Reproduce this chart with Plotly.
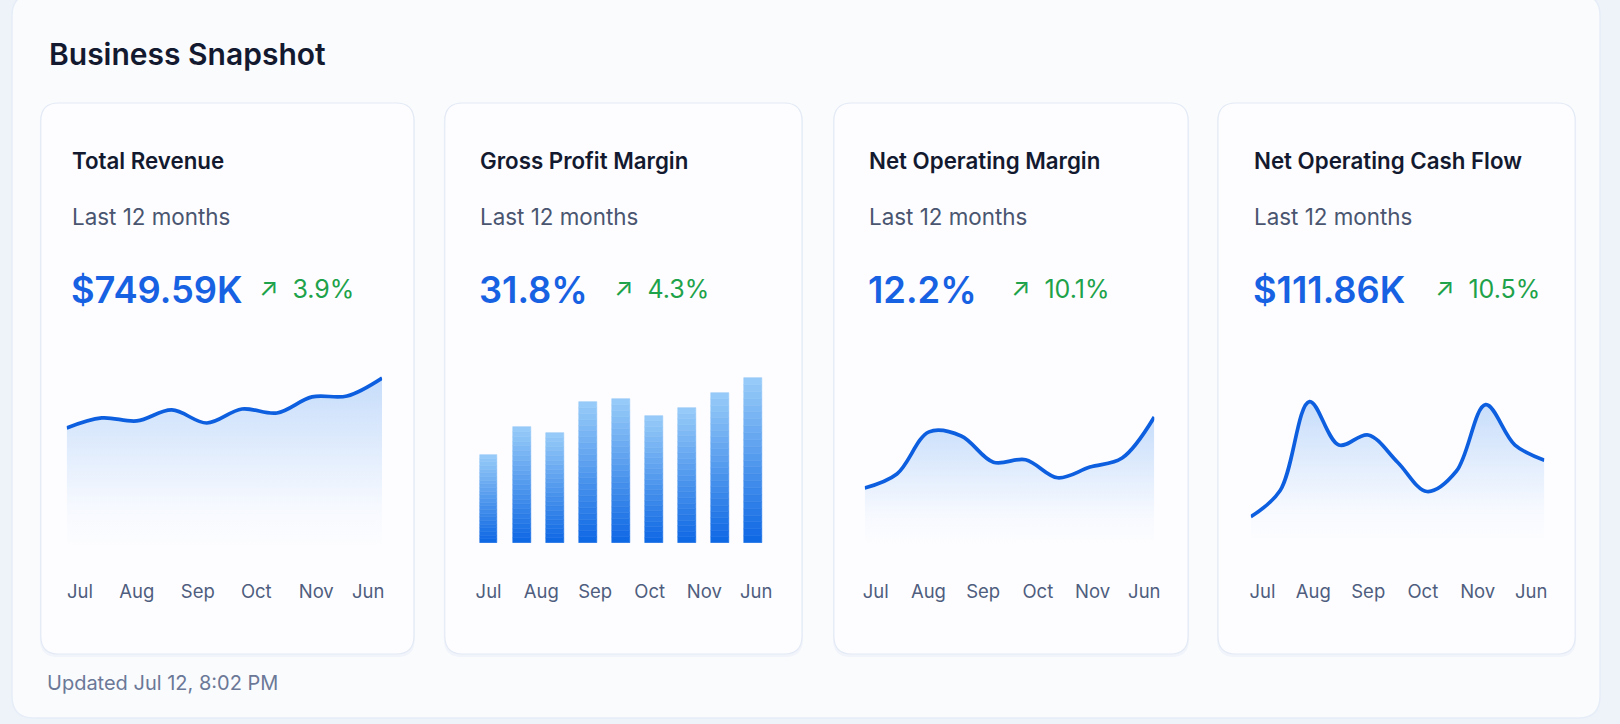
import plotly.graph_objects as go

W, H = 1620, 724

# ---------------- data ----------------
months = ["Jul", "Aug", "Sep", "Oct", "Nov", "Jun"]

card_titles = ["Total Revenue", "Gross Profit Margin", "Net Operating Margin", "Net Operating Cash Flow"]
card_subtitle = "Last 12 months"
card_values = ["$749.59K", "31.8%", "12.2%", "$111.86K"]
card_changes = ["3.9%", "4.3%", "10.1%", "10.5%"]

revenue_k = [63.5, 68.8, 67.2, 73.0, 66.1, 73.5, 71.4, 79.9, 80.4, 89.9]
gross_margin_pct = [17.6, 23.2, 22.0, 28.2, 28.8, 25.4, 27.0, 30.0, 33.0]
net_margin_pct = [6.95, 8.66, 13.8, 13.3, 10.1, 10.4, 8.2, 9.5, 10.6, 15.6]
cash_flow_k = [2.5, 5.1, 13.9, 9.6, 10.6, 7.9, 5.0, 7.0, 13.6, 9.6, 8.1]

# tick positions (in each chart's x units) for the month labels
tick_pos_1 = [0.38, 2.0, 3.74, 5.41, 7.12, 8.6]
tick_pos_2 = [0.0, 1.59, 3.22, 4.87, 6.52, 8.09]
tick_pos_3 = [0.34, 1.98, 3.68, 5.38, 7.08, 8.69]
tick_pos_4 = [0.4, 2.13, 4.0, 5.86, 7.73, 9.55]

updated_text = "Updated Jul 12, 8:02 PM"

# ---------------- style ----------------
FONT = "Inter, Lato, 'Open Sans', sans-serif"
PAGE_BG = "#eef3fa"
OUTER_BG = "#fafbfd"
CARD_BG = "#fdfdff"
CARD_BORDER = "#e3eaf5"
LINE_BLUE = "#0d5fe0"
VALUE_BLUE = "#1761e3"
GREEN = "#1ea24a"
DARK = "#131a30"
SUB = "#4a5570"
TICK = "#4f5d7e"


def px(x):
    return x / W


def py(y):
    return 1 - y / H


def rrect(x0, y0, x1, y1, r):
    # rounded rectangle path in paper coordinates (pixel inputs)
    rx, ry = r / W, r / H
    X0, X1 = px(x0), px(x1)
    Y0, Y1 = py(y1), py(y0)  # bottom, top
    return (f"M{X0+rx},{Y1} L{X1-rx},{Y1} Q{X1},{Y1} {X1},{Y1-ry} "
            f"L{X1},{Y0+ry} Q{X1},{Y0} {X1-rx},{Y0} L{X0+rx},{Y0} "
            f"Q{X0},{Y0} {X0},{Y0+ry} L{X0},{Y1-ry} Q{X0},{Y1} {X0+rx},{Y1} Z")


fig = go.Figure()

# card geometry (pixels)
cards = [(39, 103, 414, 654), (445, 103, 804, 654), (836, 103, 1192, 654), (1222, 103, 1581, 654)]
text_x = [68, 478, 869, 1256]
change_x = [256, 613, 1012, 1438]

# chart plot areas: x0, x1 (pixels of first/last point), y bottom, y top
chart_boxes = [
    (65, 382, 548, 340),
    (472.4, 771.6, 543, 343),
    (867, 1158, 545, 340),
    (1255, 1550, 542, 340),
]
y_ranges = [[0, 110], [0, 40], [0, 25], [0, 20]]

shapes = []
shapes.append(dict(type="path", path=rrect(10, -6, 1606, 718, 22), xref="paper", yref="paper",
                   fillcolor=OUTER_BG, line=dict(color="#e6edf7", width=1.5), layer="below"))
for (x0, y0, x1, y1) in cards:
    shapes.append(dict(type="path", path=rrect(x0 - 1, y0 + 1, x1 + 1, y1 + 3, 18), xref="paper", yref="paper",
                       fillcolor="rgba(200,214,236,0.18)", line=dict(width=0), layer="below"))
    shapes.append(dict(type="path", path=rrect(x0, y0, x1, y1, 18), xref="paper", yref="paper",
                       fillcolor=CARD_BG, line=dict(color=CARD_BORDER, width=1.2), layer="below"))

layout_axes = {}


def add_axes(i, xrange_, ticks):
    x0, x1, yb, yt = chart_boxes[i]
    xa = "xaxis" if i == 0 else f"xaxis{i+1}"
    ya = "yaxis" if i == 0 else f"yaxis{i+1}"
    layout_axes[xa] = dict(domain=[px(x0), px(x1)], range=xrange_, anchor=f"y{'' if i == 0 else i+1}",
                           showgrid=False, zeroline=False, showline=False, ticks="",
                           tickvals=ticks, ticktext=months, ticklabelstandoff=int(30 + (548 - yb)),
                           tickfont=dict(family=FONT, size=18.5, color=TICK), fixedrange=True)
    layout_axes[ya] = dict(domain=[py(yb), py(yt)], range=y_ranges[i], anchor=f"x{'' if i == 0 else i+1}",
                           showgrid=False, zeroline=False, showline=False, showticklabels=False,
                           fixedrange=True)


def line_trace(i, values):
    xs = list(range(len(values)))
    return go.Scatter(
        x=xs, y=values, mode="lines", xaxis=f"x{'' if i == 0 else i+1}", yaxis=f"y{'' if i == 0 else i+1}",
        line=dict(color=LINE_BLUE, width=3.7, shape="spline", smoothing=1.0),
        fill="tozeroy",
        fillgradient=dict(type="vertical", start=0, stop=max(values),
                          colorscale=[[0, "rgba(70,145,240,0.0)"], [0.25, "rgba(70,145,240,0.04)"],
                                      [1, "rgba(70,145,240,0.30)"]]),
        hoverinfo="skip", showlegend=False)


# card 1 - revenue line
add_axes(0, [0, len(revenue_k) - 1], tick_pos_1)
fig.add_trace(line_trace(0, revenue_k))

# card 2 - gross margin bars with vertical gradient (stacked slices of each bar)
add_axes(1, [-0.5, len(gross_margin_pct) - 0.5], tick_pos_2)
N = 24
bar_x = list(range(len(gross_margin_pct)))
top_c = (150, 202, 248)
bot_c = (16, 105, 228)
for k in range(N):
    t = k / (N - 1)
    c = tuple(round(bot_c[j] + (top_c[j] - bot_c[j]) * t) for j in range(3))
    fig.add_trace(go.Bar(
        x=bar_x, y=[v / N for v in gross_margin_pct], base=[v * k / N for v in gross_margin_pct],
        width=0.54, marker=dict(color=f"rgb{c}", line=dict(width=0.6, color=f"rgb{c}")),
        xaxis="x2", yaxis="y2", hoverinfo="skip", showlegend=False))

# card 3 - net operating margin
add_axes(2, [0, len(net_margin_pct) - 1], tick_pos_3)
fig.add_trace(line_trace(2, net_margin_pct))

# card 4 - cash flow
add_axes(3, [0, len(cash_flow_k) - 1], tick_pos_4)
fig.add_trace(line_trace(3, cash_flow_k))

# ---------------- text ----------------
ann = []
ann.append(dict(text="Business Snapshot", x=px(45), y=py(54), xref="paper", yref="paper",
                xanchor="left", yanchor="middle", showarrow=False,
                font=dict(family=FONT, size=30, color=DARK, weight=600)))
for i in range(4):
    ann.append(dict(text=card_titles[i], x=px(text_x[i]), y=py(161), xref="paper", yref="paper",
                    xanchor="left", yanchor="middle", showarrow=False,
                    font=dict(family=FONT, size=22.3, color=DARK, weight=600)))
    ann.append(dict(text=card_subtitle, x=px(text_x[i]), y=py(216), xref="paper", yref="paper",
                    xanchor="left", yanchor="middle", showarrow=False,
                    font=dict(family=FONT, size=22.4, color=SUB)))
    ann.append(dict(text=card_values[i], x=px(text_x[i] - 1), y=py(290), xref="paper", yref="paper",
                    xanchor="left", yanchor="middle", showarrow=False,
                    font=dict(family=FONT, size=36.3, color=VALUE_BLUE, weight=600)))
    ann.append(dict(text="↗  " + card_changes[i], x=px(change_x[i]), y=py(289), xref="paper", yref="paper",
                    xanchor="left", yanchor="middle", showarrow=False,
                    font=dict(family=FONT, size=25, color=GREEN)))
ann.append(dict(text=updated_text, x=px(43), y=py(683), xref="paper", yref="paper",
                xanchor="left", yanchor="middle", showarrow=False,
                font=dict(family=FONT, size=20, color="#6b7897")))

fig.update_layout(
    width=W, height=H, margin=dict(l=0, r=0, t=0, b=0),
    paper_bgcolor=PAGE_BG, plot_bgcolor="rgba(0,0,0,0)",
    barmode="overlay", bargap=0,
    shapes=shapes, annotations=ann, showlegend=False,
    font=dict(family=FONT),
    **layout_axes,
)

fig.write_html("out.html", config={"displayModeBar": False})
